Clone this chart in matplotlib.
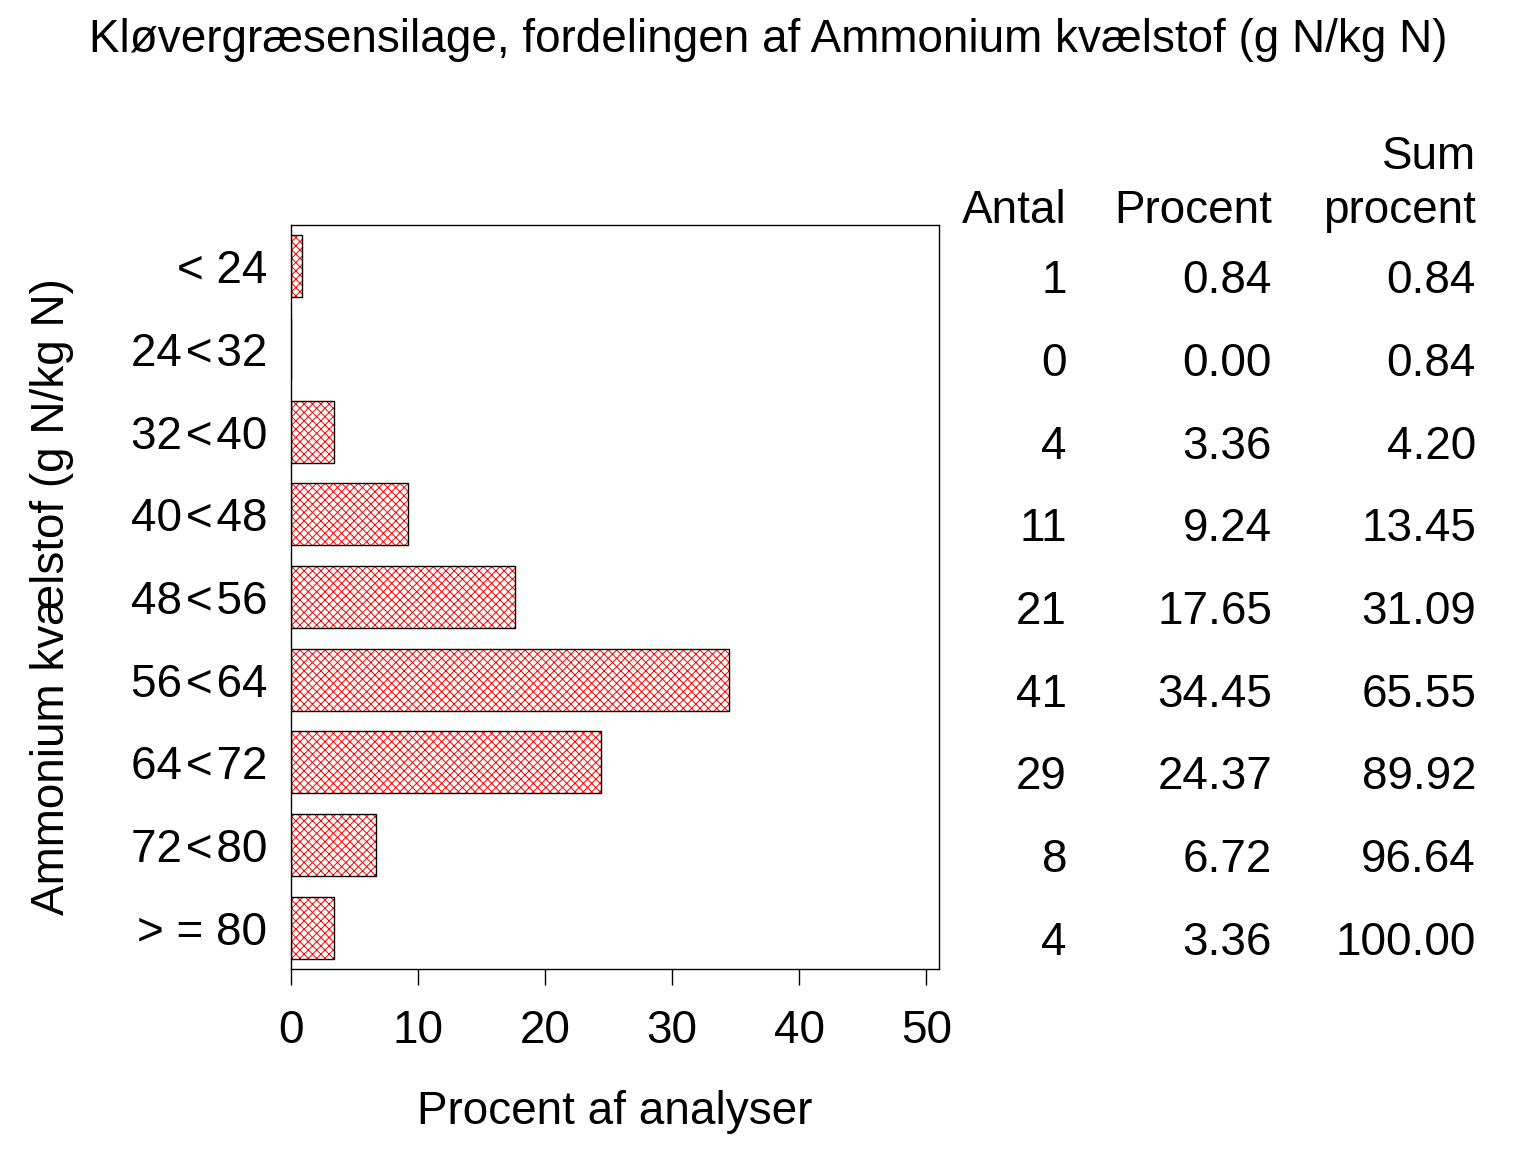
import numpy as np
import matplotlib
matplotlib.use('Agg')
import matplotlib.pyplot as plt

plt.rcParams['font.family'] = ['Liberation Sans', 'DejaVu Sans']
plt.rcParams['hatch.linewidth'] = 0.7

title = 'Kløvergræsensilage, fordelingen af Ammonium kvælstof (g N/kg N)'
ylabel = 'Ammonium kvælstof (g N/kg N)'
xlabel = 'Procent af analyser'

categories = ['< 24', '24\u200a<\u200a32', '32\u200a<\u200a40', '40\u200a<\u200a48', '48\u200a<\u200a56',
              '56\u200a<\u200a64', '64\u200a<\u200a72', '72\u200a<\u200a80', '> = 80']
antal = [1, 0, 4, 11, 21, 41, 29, 8, 4]
procent = [0.84, 0.00, 3.36, 9.24, 17.65, 34.45, 24.37, 6.72, 3.36]
sum_procent = [0.84, 0.84, 4.20, 13.45, 31.09, 65.55, 89.92, 96.64, 100.00]
xticks = [0, 10, 20, 30, 40, 50]

fs = 33

fig = plt.figure(figsize=(15.36, 11.52), dpi=100)
ax = fig.add_axes([291/1536, 183/1152, 648/1536, 744/1152])

y = np.arange(len(categories))
# hatch in red, outline in black
ax.barh(y, procent, height=0.75, color='white', edgecolor='red', hatch='xxxx', linewidth=0)
ax.barh(y, procent, height=0.75, fill=False, edgecolor='black', linewidth=1.0)

ax.set_xlim(0, 51)
ax.set_ylim(len(categories) - 0.5, -0.5)
ax.set_xticks(xticks)
ax.set_xticklabels([str(t) for t in xticks], fontsize=fs)
ax.set_yticks(y)
ax.set_yticklabels(categories, fontsize=fs)
ax.tick_params(axis='y', length=0, pad=17)
ax.tick_params(axis='x', length=11.5, width=1.0, pad=17, direction='out')
for s in ax.spines.values():
    s.set_linewidth(1.0)

ax.set_xlabel(xlabel, fontsize=fs)
ax.xaxis.set_label_coords(0.5, -0.163)
ax.set_ylabel(ylabel, fontsize=fs)
ax.yaxis.set_label_coords(-0.335, 0.5)
fig.text(0.5, 1 - 40/1152, title, fontsize=fs, ha='center', va='center')

# table on the right
col_x = [1067, 1272, 1476]
for i in range(len(categories)):
    vals = [str(antal[i]), '%.2f' % procent[i], '%.2f' % sum_procent[i]]
    for cx, v in zip(col_x, vals):
        ax.annotate(v, xy=(cx, y[i]), xycoords=('figure pixels', 'data'),
                    xytext=(0, -15), textcoords='offset pixels',
                    ha='right', va='center', fontsize=fs, annotation_clip=False)

fig.text(col_x[0]/1536, 1 - 211/1152, 'Antal', fontsize=fs, ha='right', va='center')
fig.text(col_x[1]/1536, 1 - 211/1152, 'Procent', fontsize=fs, ha='right', va='center')
fig.text(col_x[2]/1536, 1 - 211/1152, 'procent', fontsize=fs, ha='right', va='center')
fig.text(col_x[2]/1536, 1 - 157/1152, 'Sum', fontsize=fs, ha='right', va='center')

fig.savefig('out.png', dpi=100)
